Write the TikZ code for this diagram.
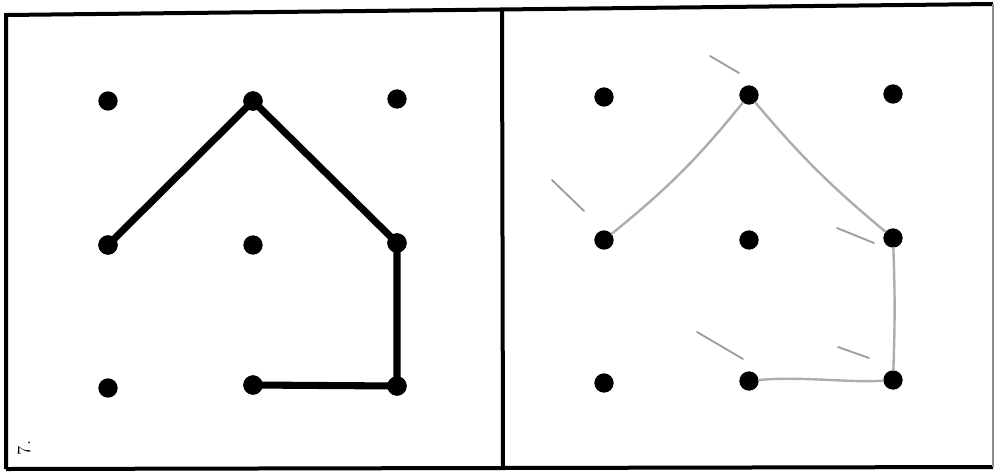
\documentclass[tikz,border=0pt]{standalone}
\begin{document}
\begin{tikzpicture}[x=0.75pt,y=-0.75pt,
  dotL/.style={circle,fill=black,inner sep=0pt,minimum size=14.5pt},
  dotR/.style={circle,fill=black,inner sep=0pt,minimum size=14.5pt},
  inkline/.style={line width=5.3pt,black,line cap=round,line join=round},
  pencil/.style={line width=1.8pt,black!32,line cap=round},
  stray/.style={line width=1.4pt,black!38,line cap=round},
  frameline/.style={line width=3pt,black}]
\useasboundingbox (0,0) rectangle (995,472);
\fill[white] (0,0) rectangle (995,472);
% frame
\draw[frameline] (6,469) -- (6,15) -- (993,4);
\draw[frameline] (6,469) -- (993,467);
\draw[line width=0.8pt,black!45] (993,4) -- (993,467);
\draw[frameline] (502,11) -- (503,469);
% left panel dots
\node[dotL] (a1) at (108,101) {};
\node[dotL] (a2) at (253,101) {};
\node[dotL] (a3) at (397,99) {};
\node[dotL] (b1) at (108,245) {};
\node[dotL] (b2) at (253,245) {};
\node[dotL] (b3) at (397,243) {};
\node[dotL] (c1) at (108,388) {};
\node[dotL] (c2) at (253,385) {};
\node[dotL] (c3) at (397,386) {};
\draw[inkline] (b1.center) -- (a2.center) -- (b3.center) -- (c3.center) -- (c2.center);
\node[dotL] at (b1) {};
\node[dotL] at (a2) {};
\node[dotL] at (b3) {};
\node[dotL] at (c3) {};
\node[dotL] at (c2) {};
% right panel dots
\node[dotR] (p1) at (604,97) {};
\node[dotR] (p2) at (749,95) {};
\node[dotR] (p3) at (893,94) {};
\node[dotR] (q1) at (604,240) {};
\node[dotR] (q2) at (749,240) {};
\node[dotR] (q3) at (893,238) {};
\node[dotR] (r1) at (604,383) {};
\node[dotR] (r2) at (749,381) {};
\node[dotR] (r3) at (893,380) {};
\draw[pencil] (q1) to[bend right=6] (p2);
\draw[pencil] (p2) to[bend right=5] (q3);
\draw[pencil] (q3) to[bend left=2] (r3);
\draw[pencil] (r3) .. controls (850,383) and (800,376) .. (r2);
% stray pencil strokes
\draw[stray] (710,56) -- (739,73);
\draw[stray] (552,180) -- (584,211);
\draw[stray] (837,228) -- (874,243);
\draw[stray] (697,332) -- (743,359);
\draw[stray] (838,347) -- (869,358);
% label
\node[rotate=90,font=\fontsize{14}{16}\selectfont,inner sep=0pt] (lbl) at (24,448) {7.};
\end{tikzpicture}
\end{document}
